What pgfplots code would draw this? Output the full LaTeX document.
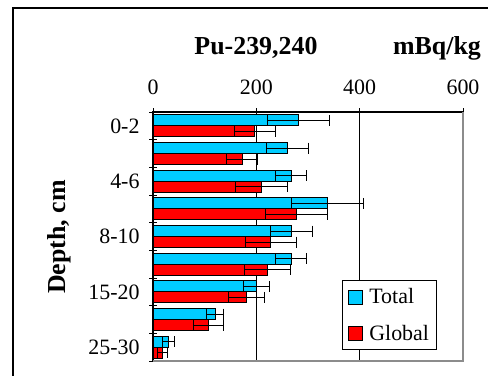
\documentclass[border=0pt]{standalone}
\usepackage{fontspec}
\setmainfont{Liberation Serif}
\usepackage{pgfplots}
\pgfplotsset{compat=1.18}
\definecolor{cyanbar}{RGB}{0,204,255}
\definecolor{redbar}{RGB}{255,0,0}
\begin{document}
\begin{tikzpicture}[x=1bp,y=1bp]
\useasboundingbox (0,0) rectangle (488,375);
\draw[line width=1.6bp] (13,-5) -- (13,367) -- (495,367);
\begin{axis}[
  at={(153bp,14bp)}, anchor=south west,
  scale only axis, width=310bp, height=249bp,
  xbar, xmin=0, xmax=600, ymin=-0.5, ymax=8.5,
  axis line style={draw=none},
  xtick={0,200,400,600}, xtick pos=upper, xticklabel pos=upper,
  ytick={-0.5,0.5,...,8.5}, ytick pos=left, yticklabels={},
  extra y ticks={0,2,4,6,8},
  extra y tick labels={25-30,15-20,8-10,4-6,0-2},
  extra y tick style={major tick length=0pt, ymajorgrids=false},
  tick align=center, major tick length=8bp,
  tick style={black, line width=1bp},
  xmajorgrids, major grid style={black, line width=0.9bp},
  /pgf/number format/assume math mode=true,
  tick label style={font=\fontsize{22}{26}\selectfont},
  xticklabel style={yshift=10bp},
  yticklabel style={xshift=-10bp},
  bar width=11bp,
  legend style={at={(axis description cs:0.61,0.325)}, anchor=north west,
    draw=black, line width=1bp, font=\fontsize{22}{26}\selectfont,
    row sep=16bp, inner xsep=5bp, inner ysep=6bp, cells={anchor=west}},
  legend image code/.code={\draw[#1, draw=black, line width=0.8bp] (0bp,-7bp) rectangle (14bp,7bp); \path (19bp,0bp);},
  clip=false,
]
\addplot[bar shift=5.5bp, fill=cyanbar, draw=black, line width=0.7bp,
  error bars/.cd, x dir=both, x explicit,
  error bar style={line width=1bp, black},
  error mark options={black, line width=1bp, mark size=5.5bp, rotate=90}]
  coordinates {
  (281,8) +- (60,0)
  (260,7) +- (40,0)
  (268,6) +- (30,0)
  (338,5) +- (70,0)
  (268,4) +- (40,0)
  (268,3) +- (30,0)
  (200,2) +- (25,0)
  (120,1) +- (16,0)
  (30,0) +- (12,0)
  };
\addplot[bar shift=-5.5bp, fill=redbar, draw=black, line width=0.7bp,
  error bars/.cd, x dir=both, x explicit,
  error bar style={line width=1bp, black},
  error mark options={black, line width=1bp, mark size=5.5bp, rotate=90}]
  coordinates {
  (197,8) +- (40,0)
  (173,7) +- (30,0)
  (210,6) +- (50,0)
  (278,5) +- (60,0)
  (228,4) +- (49,0)
  (222,3) +- (44,0)
  (181,2) +- (34,0)
  (108,1) +- (29,0)
  (18,0) +- (10,0)
  };
\legend{Total,Global}
\draw[line width=1.5bp, black] (axis description cs:0,0) -- (axis description cs:0,1) -- (axis description cs:1,1);
\draw[line width=1.5bp, black!45] (axis description cs:0,0) -- (axis description cs:1,0) -- (axis description cs:1,1);
\end{axis}
\node[font=\bfseries\fontsize{26}{30}\selectfont] at (256,327) {Pu-239,240};
\node[font=\bfseries\fontsize{26}{30}\selectfont] at (437,327) {mBq/kg};
\node[font=\bfseries\fontsize{26}{30}\selectfont, rotate=90] at (59,138) {Depth, cm};
\end{tikzpicture}
\end{document}
